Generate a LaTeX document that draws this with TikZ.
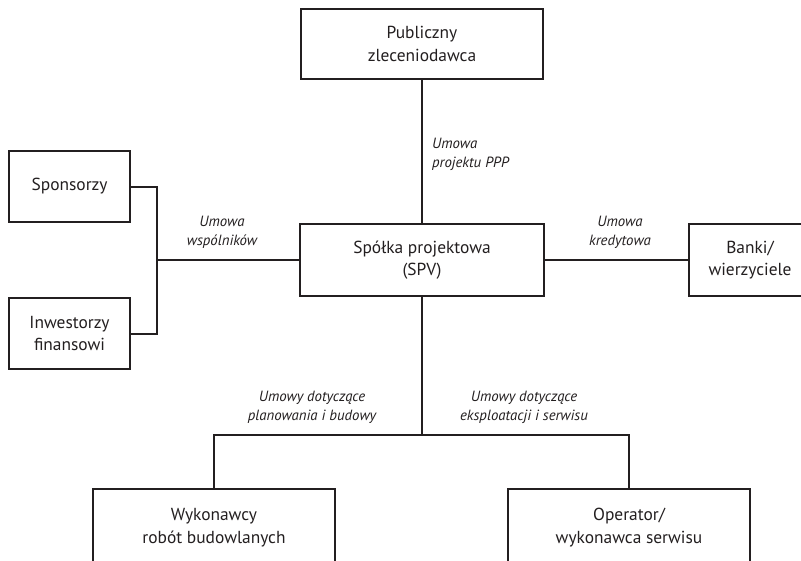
\documentclass[tikz,border=0pt]{standalone}
\usepackage{fontspec}
\setmainfont{PT Sans}
\definecolor{ink}{HTML}{231F20}
\begin{document}
\begin{tikzpicture}[x=1pt,y=-1pt,
  box/.style={draw=ink, line width=2pt, text=ink, align=center, inner sep=0pt,
    font=\fontsize{17.4}{22.5}\selectfont},
  lbl/.style={text=ink, inner sep=0pt, font=\fontsize{14.8}{19}\selectfont\itshape},
  conn/.style={draw=ink, line width=2pt}]
\clip (0,0) rectangle (801,560);
\fill[white] (0,0) rectangle (801,560);
\node[box, minimum width=242pt, minimum height=70pt] (pub) at (422,44) {Publiczny\\zleceniodawca};
\node[box, minimum width=244pt, minimum height=72pt] (spv) at (422,260) {Spółka projektowa\\(SPV)};
\node[box, minimum width=121pt, minimum height=71pt] (spo) at (69.5,186.5) {Sponsorzy};
\node[box, minimum width=121pt, minimum height=71pt] (inw) at (69.5,333.5) {Inwestorzy\\finansowi};
\node[box, minimum width=122pt, minimum height=72pt] (ban) at (750,260) {Banki/\\wierzyciele};
\node[box, minimum width=242pt, minimum height=77pt] (wyk) at (214,527.5) {Wykonawcy\\robót budowlanych};
\node[box, minimum width=242pt, minimum height=77pt] (ope) at (629,527.5) {Operator/\\wykonawca serwisu};
\coordinate (j) at (157,260);
\coordinate (b) at (422,435);
\draw[conn] (pub.south) -- (spv.north);
\draw[conn] (spo.east) -| (j) |- (inw.east);
\draw[conn] (j) -- (spv.west);
\draw[conn] (spv.east) -- (ban.west);
\draw[conn] (spv.south) -- (b);
\draw[conn] (wyk.north) |- (b) -| (ope.north);
\node[lbl, anchor=west, align=left] (l1) at (432,154) {Umowa\\projektu PPP};
\node[lbl, align=center] (l2) at (222,232.5) {Umowa\\wspólników};
\node[lbl, align=center] (l3) at (620,232.5) {Umowa\\kredytowa};
\node[lbl, align=center] (l4) at (312,407.5) {Umowy dotyczące\\planowania i budowy};
\node[lbl, align=center] (l5) at (524,407.5) {Umowy dotyczące\\eksploatacji i serwisu};
\end{tikzpicture}
\end{document}
